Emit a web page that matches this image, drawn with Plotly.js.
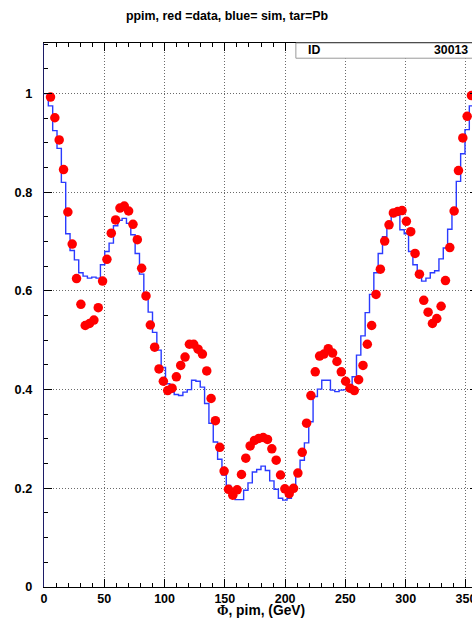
<!DOCTYPE html>
<html>
<head>
<meta charset="utf-8">
<script src="https://cdn.plot.ly/plotly-3.0.1.min.js"></script>
<style>
  html, body { margin: 0; padding: 0; background: #fff; overflow: hidden; }
  #chart { width: 490px; height: 618px; }
</style>
</head>
<body>
<div id="chart"></div>
<script>
// Phi bin centres (100 bins of 3.6 deg over 0..360)
const phiCenters = [
  1.8, 5.4, 9.0, 12.6, 16.2, 19.8, 23.4, 27.0, 30.6, 34.2,
  37.8, 41.4, 45.0, 48.6, 52.2, 55.8, 59.4, 63.0, 66.6, 70.2,
  73.8, 77.4, 81.0, 84.6, 88.2, 91.8, 95.4, 99.0, 102.6, 106.2,
  109.8, 113.4, 117.0, 120.6, 124.2, 127.8, 131.4, 135.0, 138.6, 142.2,
  145.8, 149.4, 153.0, 156.6, 160.2, 163.8, 167.4, 171.0, 174.6, 178.2,
  181.8, 185.4, 189.0, 192.6, 196.2, 199.8, 203.4, 207.0, 210.6, 214.2,
  217.8, 221.4, 225.0, 228.6, 232.2, 235.8, 239.4, 243.0, 246.6, 250.2,
  253.8, 257.4, 261.0, 264.6, 268.2, 271.8, 275.4, 279.0, 282.6, 286.2,
  289.8, 293.4, 297.0, 300.6, 304.2, 307.8, 311.4, 315.0, 318.6, 322.2,
  325.8, 329.4, 333.0, 336.6, 340.2, 343.8, 347.4, 351.0, 354.6, 358.2
];
const binWidth = 3.6;

// Measured ratio (red markers)
const dataRatio = [
  null, 0.993, 0.951, 0.906, 0.846, 0.760, 0.695, 0.625, 0.573, 0.530,
  0.534, 0.541, 0.566, 0.620, 0.664, 0.717, 0.744, 0.768, 0.772, 0.762,
  0.735, 0.704, 0.646, 0.590, 0.531, 0.486, 0.442, 0.417, 0.398, 0.403,
  0.426, 0.449, 0.466, 0.492, 0.492, 0.482, 0.472, 0.438, 0.382, 0.337,
  0.283, 0.235, 0.198, 0.186, 0.197, 0.228, 0.261, 0.286, 0.297, 0.301,
  0.303, 0.299, 0.280, 0.257, 0.227, 0.199, 0.189, 0.200, 0.231, 0.273,
  0.332, 0.388, 0.436, 0.468, 0.472, 0.483, 0.474, 0.457, 0.436, 0.417,
  0.403, 0.398, 0.420, 0.449, 0.492, 0.530, 0.593, 0.644, 0.701, 0.734,
  0.758, 0.761, 0.763, 0.741, 0.720, 0.676, 0.634, 0.581, 0.557, 0.534,
  0.544, 0.569, 0.621, 0.688, 0.762, 0.844, 0.910, 0.954, 0.996, null
];

// Simulated ratio (blue histogram)
const simRatio = [
  1.000, 0.975, 0.925, 0.889, 0.820, 0.716, 0.682, 0.663, 0.637, 0.630,
  0.626, 0.628, 0.626, 0.653, 0.680, 0.697, 0.732, 0.743, 0.747, 0.737,
  0.714, 0.676, 0.634, 0.595, 0.557, 0.516, 0.480, 0.445, 0.412, 0.395,
  0.390, 0.388, 0.395, 0.400, 0.419, 0.417, 0.405, 0.372, 0.332, 0.294,
  0.259, 0.227, 0.206, 0.180, 0.177, 0.177, 0.196, 0.211, 0.233, 0.238,
  0.245, 0.236, 0.215, 0.198, 0.180, 0.176, 0.180, 0.205, 0.230, 0.257,
  0.292, 0.335, 0.386, 0.401, 0.419, 0.419, 0.399, 0.396, 0.399, 0.400,
  0.402, 0.426, 0.470, 0.509, 0.556, 0.593, 0.637, 0.676, 0.710, 0.730,
  0.751, 0.754, 0.724, 0.716, 0.680, 0.653, 0.632, 0.620, 0.626, 0.637,
  0.641, 0.665, 0.687, 0.725, 0.768, 0.822, 0.878, 0.927, 0.975, 1.000
];

const titleText = 'ppim, red =data, blue= sim, tar=Pb';
const xTitleText = '<span style="font-family:\'Liberation Serif\', serif">Φ</span>, pim, (GeV)';
const statLabel = 'ID';
const statValue = '30013';

// Histogram outline: step from each bin's lower edge, closing at the last upper edge
const stepX = phiCenters.map(c => c - binWidth / 2).concat([phiCenters[phiCenters.length - 1] + binWidth / 2]);
const stepY = simRatio.concat([simRatio[simRatio.length - 1]]);

const FONT = '"Liberation Sans", Arial, Helvetica, sans-serif';
const W = 490, H = 618;
const mL = 44.3, mR = 12, mT = 43.3, mB = 31.2;
const plotW = W - mL - mR, plotH = H - mT - mB;
const px2paperX = px => (px - mL) / plotW;
const px2paperY = py => (H - mB - py) / plotH;

const traces = [
  {
    x: stepX, y: stepY,
    type: 'scatter', mode: 'lines',
    line: { shape: 'hv', color: '#2b3bff', width: 1.4 },
    hoverinfo: 'skip', showlegend: false
  },
  {
    x: phiCenters, y: dataRatio,
    type: 'scatter', mode: 'markers',
    marker: { color: '#ff0000', size: 9.5, line: { width: 0 } },
    showlegend: false
  }
];

const gridStyle = { color: '#6a6a6a', dash: '1px,2px' };

const layout = {
  width: W, height: H,
  margin: { l: mL, r: mR, t: mT, b: mB, pad: 0 },
  paper_bgcolor: '#ffffff', plot_bgcolor: '#ffffff',
  font: { family: FONT, size: 12.5, color: '#000', weight: 'bold' },
  title: {
    text: titleText,
    x: 227 / W, xanchor: 'center', xref: 'container',
    y: 1 - 16 / H, yanchor: 'middle', yref: 'container',
    font: { family: FONT, size: 12.4, color: '#000', weight: 'bold' }
  },
  xaxis: {
    range: [0, 360], autorange: false,
    tick0: 0, dtick: 50,
    ticks: 'inside', ticklen: 8, tickwidth: 1, tickcolor: '#000',
    minor: { ticks: 'inside', dtick: 10, ticklen: 4, tickwidth: 1, tickcolor: '#000', showgrid: false },
    showline: true, linecolor: '#000', linewidth: 1, mirror: 'ticks',
    showgrid: true, gridcolor: gridStyle.color, griddash: gridStyle.dash, gridwidth: 1,
    zeroline: false,
    tickfont: { family: FONT, size: 12.5, color: '#000', weight: 'bold' },
    ticklabelstandoff: 0,
    automargin: false
  },
  yaxis: {
    range: [0, 1.1025], autorange: false,
    tick0: 0, dtick: 0.2,
    ticks: 'inside', ticklen: 8, tickwidth: 1, tickcolor: '#000',
    minor: { ticks: 'inside', dtick: 0.05, ticklen: 4, tickwidth: 1, tickcolor: '#000', showgrid: false },
    showline: true, linecolor: '#1c1c66', linewidth: 1.2, mirror: 'ticks',
    showgrid: true, gridcolor: gridStyle.color, griddash: gridStyle.dash, gridwidth: 1,
    zeroline: false,
    tickfont: { family: FONT, size: 12.7, color: '#000', weight: 'bold' },
    ticklabelstandoff: 8,
    automargin: false
  },
  shapes: [
    {
      type: 'rect', xref: 'paper', yref: 'paper',
      x0: px2paperX(296), x1: 1.0, y0: px2paperY(58.5), y1: 1.0,
      line: { color: '#9a9a9a', width: 1 }, fillcolor: '#ffffff', layer: 'above'
    }
  ],
  annotations: [
    {
      text: statLabel, xref: 'paper', yref: 'paper',
      x: px2paperX(306), y: px2paperY(50.5), xanchor: 'left', yanchor: 'middle',
      showarrow: false, font: { family: FONT, size: 12.3, color: '#000', weight: 'bold' }
    },
    {
      text: statValue, xref: 'paper', yref: 'paper',
      x: px2paperX(470.5), y: px2paperY(50.5), xanchor: 'right', yanchor: 'middle',
      showarrow: false, font: { family: FONT, size: 12.3, color: '#000', weight: 'bold' }
    },
    {
      // x-axis title, centred under the frame
      text: xTitleText, xref: 'paper', yref: 'paper',
      x: 0.5, y: px2paperY(610.5), xanchor: 'center', yanchor: 'middle',
      showarrow: false, font: { family: FONT, size: 13.8, color: '#000', weight: 'bold' }
    }
  ]
};

Plotly.newPlot('chart', traces, layout, { staticPlot: true, displayModeBar: false });
</script>
</body>
</html>
